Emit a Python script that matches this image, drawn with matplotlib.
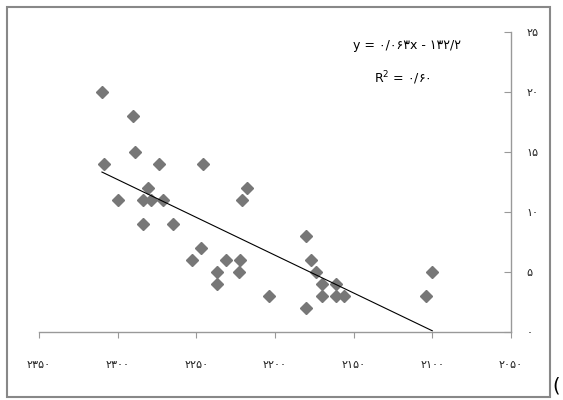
import matplotlib
matplotlib.use("Agg")
import matplotlib.pyplot as plt
from matplotlib.patches import Rectangle
from matplotlib.ticker import FuncFormatter

# scatter values
elevation = [2310, 2309, 2300, 2290, 2289, 2284, 2284, 2281, 2279, 2274, 2271, 2265,
             2253, 2247, 2246, 2237, 2237, 2231, 2223, 2222, 2221, 2218, 2204,
             2180, 2180, 2177, 2174, 2170, 2170, 2161, 2161, 2156, 2104, 2100]
values = [20, 14, 11, 18, 15, 11, 9, 12, 11, 14, 11, 9,
          6, 7, 14, 5, 4, 6, 5, 6, 11, 12, 3,
          8, 2, 6, 5, 4, 3, 4, 3, 3, 3, 5]

# trendline as printed on the chart
slope = 0.063
intercept = -132.2
r_squared = 0.60

x_ticks = [2350, 2300, 2250, 2200, 2150, 2100, 2050]
y_ticks = [0, 5, 10, 15, 20, 25]

FA = str.maketrans("0123456789.", "۰۱۲۳۴۵۶۷۸۹/")


def to_fa(v):
    return str(v).translate(FA)


fig = plt.figure(figsize=(5.63, 4.0), dpi=100)
fig.patch.set_facecolor("white")
ax = fig.add_axes([0.0693, 0.17, 0.8383, 0.75])

ax.plot(elevation, values, linestyle="none", marker="D", markersize=6.3,
        color="#777777", markeredgecolor="#777777")

xl = [min(elevation), max(elevation)]
ax.plot(xl, [slope * v + intercept for v in xl], color="black", linewidth=0.8)

ax.set_xlim(2350, 2050)
ax.set_ylim(0, 25)
ax.set_xticks(x_ticks)
ax.set_yticks(y_ticks)
ax.xaxis.set_major_formatter(FuncFormatter(lambda v, p: to_fa(int(round(v)))))
ax.yaxis.set_major_formatter(FuncFormatter(lambda v, p: to_fa(int(round(v)))))

for side in ["top", "left"]:
    ax.spines[side].set_visible(False)
for side in ["bottom", "right"]:
    ax.spines[side].set_color("#999999")
    ax.spines[side].set_linewidth(1.0)

ax.yaxis.tick_right()
ax.tick_params(axis="x", direction="out", length=4, color="#999999",
               pad=16, labelsize=8, labelcolor="#222222")
ax.tick_params(axis="y", direction="in", length=5, color="#999999",
               pad=11, labelsize=8, labelcolor="#222222")

eq = "y = " + to_fa("%.3f" % slope) + "x - " + to_fa("%.1f" % abs(intercept))
ax.text(0.78, 0.955, eq, transform=ax.transAxes, ha="center", va="center",
        fontsize=9, family="DejaVu Sans")
ax.text(0.77, 0.845, "R$^2$ = " + to_fa("%.2f" % r_squared),
        transform=ax.transAxes, ha="center", va="center", fontsize=9,
        family="DejaVu Sans")

# outer chart frame
fig.patches.append(Rectangle((7 / 563, 3 / 400), 543 / 563, 390 / 400,
                             transform=fig.transFigure, fill=False,
                             edgecolor="#888888", linewidth=1.5))
fig.text(0.982, 0.035, "(", fontsize=14, ha="left", va="center")

fig.savefig("out.png", dpi=100)
